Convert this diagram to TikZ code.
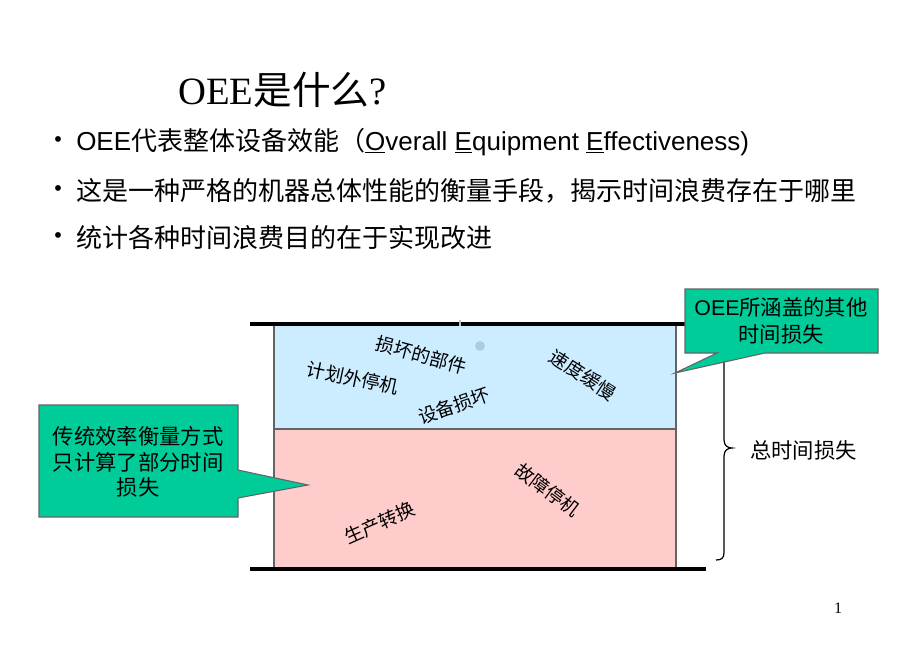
\documentclass[tikz,border=0pt]{standalone}
\usepackage{fontspec}
\setmainfont{Liberation Sans}
\newfontfamily\cjk{Noto Sans CJK SC}
\newfontfamily\serifrm{Liberation Serif}
\definecolor{calloutgreen}{RGB}{0,204,153}
\definecolor{lossblue}{RGB}{204,236,255}
\definecolor{losspink}{RGB}{255,204,204}
\definecolor{edgegray}{RGB}{100,100,100}
\definecolor{dotgray}{RGB}{176,204,218}
\tikzset{
  bullettext/.style={anchor=west, inner sep=0pt, font=\fontsize{19.5}{24}\selectfont},
  bulletdot/.style={inner sep=0pt, font=\fontsize{16}{20}\selectfont},
  losslabel/.style={inner sep=0pt, font=\cjk\fontsize{14}{16}\selectfont},
  callouttext/.style={align=center, inner sep=0pt, font=\fontsize{16}{20}\selectfont},
  calloutshape/.style={fill=calloutgreen, draw=edgegray, line width=0.8pt},
  lossbox/.style={draw=edgegray, line width=0.8pt},
  floorbar/.style={line width=3.5pt, black},
}
\begin{document}
\begin{tikzpicture}[x=0.75pt,y=-0.75pt]
\useasboundingbox (0,0) rectangle (920,652);
% title
\node[inner sep=0pt, anchor=west, font=\fontsize{29}{34}\selectfont] (title) at (178,90)
  {{\serifrm OEE}{\cjk 是什么}{\serifrm ?}};
% bullets
\node[bulletdot] (b1) at (58,142) {•};
\node[bulletdot] (b2) at (58,191) {•};
\node[bulletdot] (b3) at (58,238) {•};
\node[bullettext] (l1) at (76,142) {OEE{\cjk 代表整体设备效能（}\underline{O}verall \underline{E}quipment \underline{E}ffectiveness)};
\node[bullettext] (l2) at (76,191) {\cjk 这是一种严格的机器总体性能的衡量手段，揭示时间浪费存在于哪里};
\node[bullettext] (l3) at (76,238) {\cjk 统计各种时间浪费目的在于实现改进};
% brace (partly hidden by callout)
\draw[line width=0.9pt] (716,336) .. controls (722,336) and (724,340) .. (724,348)
  -- (724,440) .. controls (724,446) and (728,448) .. (732,448)
  .. controls (728,448) and (724,450) .. (724,456)
  -- (724,552) .. controls (724,558) and (722,560) .. (716,560);
% loss boxes
\fill[lossblue] (274,326) rectangle (676,429);
\fill[losspink] (274,429) rectangle (676,568);
\draw[lossbox] (274,326) -- (274,568);
\draw[lossbox] (676,326) -- (676,568);
\draw[lossbox] (274,429) -- (676,429);
\draw[floorbar] (250,324) -- (705,324);
\draw[floorbar] (250,569) -- (706,569);
\draw[gray!50, line width=2pt] (460,320) -- (460,326);
\fill[dotgray] (480,346) circle (5);
% labels in boxes
\node[losslabel, rotate=-12] (u1) at (353,378) {计划外停机};
\node[losslabel, rotate=-15] (u2) at (421,355) {损坏的部件};
\node[losslabel, rotate=19] (u3) at (454,406) {设备损坏};
\node[losslabel, rotate=-33] (u4) at (583,375) {速度缓慢};
\node[losslabel, rotate=-37] (u5) at (548,490) {故障停机};
\node[losslabel, rotate=24] (u6) at (380,523) {生产转换};
% left callout
\draw[calloutshape] (39,405) -- (238,405) -- (238,470) -- (308,485) -- (238,498)
  -- (238,517) -- (39,517) -- cycle;
\node[callouttext, font=\cjk\fontsize{16}{19.2}\selectfont] (leftnote) at (138,462)
  {传统效率衡量方式\\只计算了部分时间\\损失};
% right callout
\draw[calloutshape] (685,289) -- (878,289) -- (878,353) -- (765,353) -- (675,373)
  -- (717,353) -- (685,353) -- cycle;
\node[callouttext, font=\fontsize{16}{20}\selectfont] (rightnote) at (781,321)
  {OEE{\cjk 所涵盖的其他}\\{\cjk 时间损失}};
% total
\node[inner sep=0pt, anchor=west, font=\cjk\fontsize{16}{20}\selectfont] (total) at (750,450) {总时间损失};
% page number
\node[inner sep=0pt, font=\serifrm\fontsize{12}{14}\selectfont] (page) at (838,608) {1};
\end{tikzpicture}
\end{document}
